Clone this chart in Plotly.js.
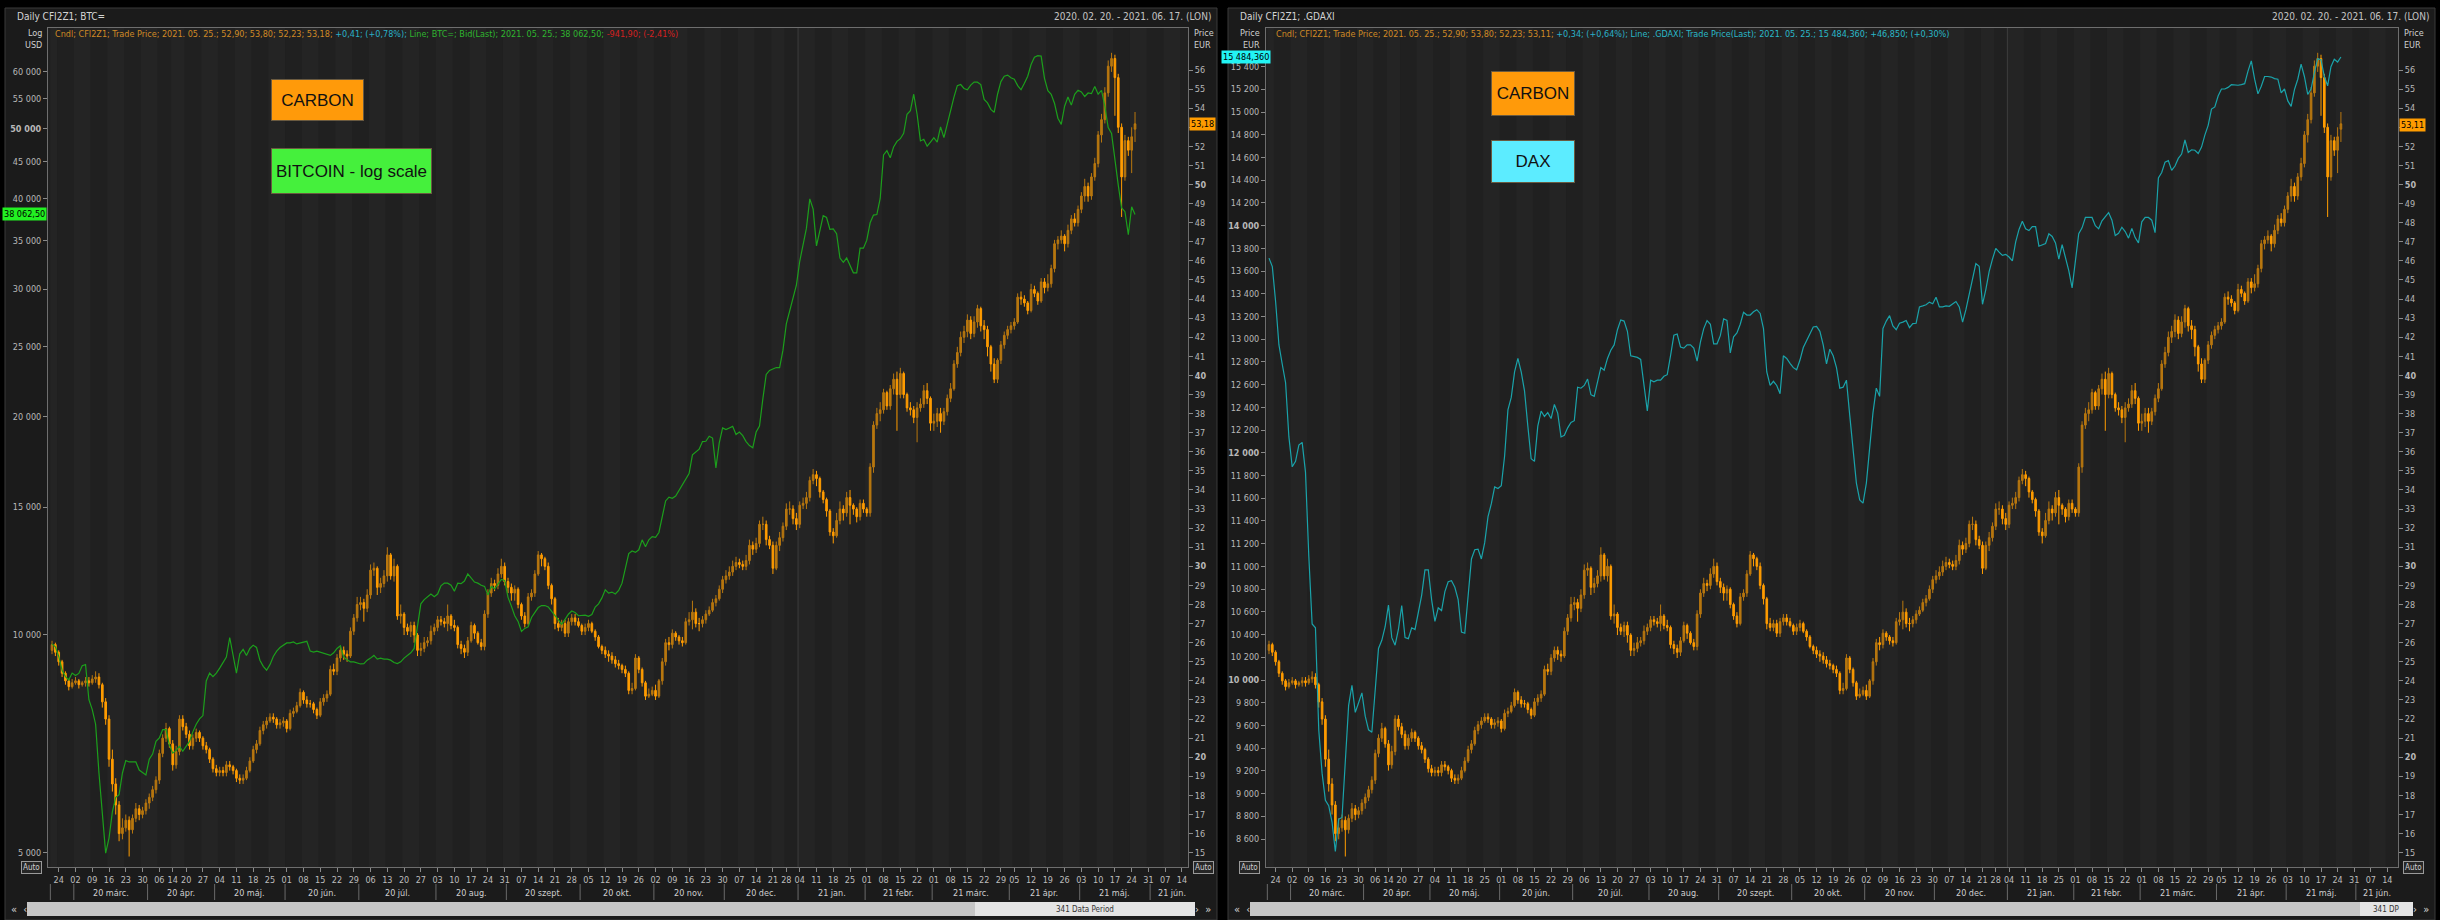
<!DOCTYPE html>
<html><head><meta charset="utf-8">
<script src="https://cdn.plot.ly/plotly-3.0.1.min.js"></script>
<style>html,body{margin:0;padding:0;background:#000;}#chart{width:2440px;height:920px;}</style>
</head><body><div id="chart"></div>
<script>
// ---------------- DATA ----------------
const holidays = ['2020-04-10','2020-04-13','2020-12-25','2021-01-01','2021-04-02'];
const firstDay = '2020-02-20', lastDay = '2021-06-17';

// Carbon CFI2Z1 daily candles (EUR)
const carbonOpen = [
25.6,25.9,25.5,25.0,24.4,24.0,23.7,23.9,24.0,23.8,
23.9,24.0,23.9,24.1,24.2,23.8,22.9,22.0,19.9,18.6,
17.5,16.0,16.3,16.7,16.2,16.8,17.3,17.0,17.2,17.6,
17.9,18.3,18.8,20.2,21.0,21.5,20.7,19.6,20.3,22.0,
21.6,21.2,20.6,21.0,21.3,21.0,20.6,20.4,19.9,19.4,
19.2,19.3,19.2,19.6,19.5,19.3,18.9,18.8,18.9,19.3,
19.8,20.4,20.7,21.4,21.7,21.9,22.1,22.0,21.7,21.8,
21.9,21.5,22.3,22.4,22.7,23.4,23.0,22.8,22.8,22.5,
22.2,22.9,23.1,23.3,24.6,24.5,25.2,25.6,25.4,25.3,
26.6,27.3,28.0,28.1,27.8,28.5,29.8,29.9,28.9,29.1,
29.5,30.6,29.5,30.0,27.4,27.5,26.8,26.6,26.9,26.4,
25.6,25.7,26.0,26.1,26.6,26.8,27.2,27.1,27.0,27.4,
26.9,26.8,25.9,25.7,25.5,26.1,26.9,26.5,26.0,25.8,
27.5,28.6,29.1,29.0,29.6,30.0,29.2,28.9,28.6,28.8,
28.0,27.4,27.0,28.4,28.6,29.6,30.6,30.4,30.0,29.0,
28.3,27.0,26.8,27.0,26.5,27.1,27.3,27.1,26.9,26.6,
26.8,27.0,26.6,26.3,25.8,25.6,25.4,25.3,25.1,24.9,
24.8,24.6,24.4,23.5,23.6,25.2,24.6,23.9,23.2,23.3,
23.5,23.2,24.0,25.0,26.0,25.9,26.5,26.3,26.1,26.0,
27.1,27.2,27.6,27.0,27.0,27.2,27.5,27.7,28.1,28.3,
28.8,29.3,29.5,29.7,30.0,30.2,30.1,30.0,30.3,31.1,
30.9,31.2,32.2,32.2,31.4,31.1,29.9,31.1,31.5,32.1,
33.0,33.0,32.5,32.2,33.2,33.3,33.6,34.5,34.8,34.6,
33.9,33.5,32.9,31.8,31.6,32.4,33.0,32.8,33.6,33.2,
33.0,32.6,33.3,33.0,32.8,35.2,37.4,38.0,38.2,39.1,
38.4,39.3,39.8,39.0,40.1,39.0,38.3,38.2,37.8,38.3,
38.5,39.2,38.8,37.5,37.6,38.0,37.6,38.1,38.8,39.3,
40.6,41.2,42.0,42.3,42.9,42.2,42.8,43.5,42.6,42.4,
41.5,40.6,39.8,40.8,41.6,42.1,42.4,42.6,42.8,44.1,
44.0,43.8,43.4,44.5,44.3,43.9,44.9,44.6,44.8,45.6,
46.9,47.1,47.3,46.9,47.6,48.2,48.0,48.7,49.4,49.9,
49.4,50.4,51.1,52.6,53.4,54.8,56.2,56.6,55.6,53.0,
50.4,52.3,51.8,52.90];
const carbonHigh = [
26.1,26.0,25.6,25.1,24.5,24.1,24.1,24.2,24.1,24.0,
24.2,24.2,24.3,24.5,24.4,23.9,23.1,22.2,20.4,18.9,
17.7,16.8,17.0,16.9,17.0,17.6,17.5,17.4,17.8,18.1,
18.5,19.0,20.4,21.2,21.8,21.6,20.9,20.6,22.2,22.2,
21.8,21.4,21.2,21.5,21.4,21.1,20.8,20.5,20.0,19.6,
19.5,19.5,19.8,19.8,19.6,19.4,19.1,19.1,19.5,20.0,
20.6,20.9,21.6,21.9,22.1,22.3,22.3,22.1,22.0,22.1,
22.0,22.5,22.6,22.9,23.6,23.5,23.2,23.0,22.9,22.6,
23.1,23.3,23.5,24.8,24.9,25.4,25.8,25.8,25.6,26.8,
27.5,28.4,28.4,28.3,28.8,30.1,30.2,30.0,29.4,29.8,
31.0,30.7,30.4,30.1,28.0,27.6,27.0,27.1,27.1,26.5,
26.0,26.3,26.3,26.9,27.0,27.4,27.4,27.3,28.0,27.5,
27.2,26.9,26.1,25.9,26.3,27.1,27.0,26.6,26.2,27.7,
28.8,29.4,29.3,29.9,30.4,30.2,29.4,29.1,29.0,28.9,
28.1,27.6,28.6,28.8,29.8,30.8,30.7,30.5,30.2,29.1,
28.4,27.3,27.2,27.2,27.3,27.5,27.5,27.3,27.0,27.0,
27.2,27.1,26.7,26.4,25.9,25.8,25.6,25.5,25.3,25.1,
24.9,24.8,24.5,23.9,25.4,25.3,24.7,24.0,23.6,23.7,
23.8,24.1,25.2,26.2,26.3,26.7,26.6,26.4,26.3,27.3,
27.6,28.2,27.8,27.3,27.4,27.7,27.9,28.3,28.5,29.0,
29.5,29.8,30.0,30.3,30.5,30.4,30.3,30.6,31.4,31.3,
31.5,32.4,32.6,32.4,31.6,31.3,31.3,31.8,32.3,33.3,
33.4,33.2,32.8,33.4,33.6,33.9,34.7,35.1,35.0,34.7,
34.0,33.6,33.0,32.0,32.8,33.4,33.2,33.9,34.0,33.3,
33.1,33.5,33.5,33.1,35.4,37.6,38.3,38.6,39.3,39.2,
39.5,40.1,40.2,40.4,40.2,39.1,38.6,38.4,38.6,38.8,
39.5,39.6,38.9,38.0,38.3,38.3,38.3,39.0,39.6,40.8,
41.5,42.3,42.6,43.2,43.1,43.1,43.7,43.6,42.9,42.6,
41.6,40.9,40.9,41.8,42.3,42.6,42.8,43.0,44.3,44.4,
44.2,43.9,44.8,44.7,44.4,45.1,45.1,45.3,45.8,47.1,
47.3,47.6,47.4,47.9,48.4,48.5,48.9,49.6,50.3,50.1,
50.6,51.4,52.8,53.7,55.1,56.5,56.9,56.8,55.8,53.2,
52.6,52.5,53.0,53.80];
const carbonLow = [
25.4,25.3,24.8,24.2,23.8,23.5,23.6,23.8,23.6,23.7,
23.7,23.7,23.8,23.9,23.6,22.6,21.7,19.5,18.2,17.0,
15.6,15.7,16.1,14.8,16.0,16.6,16.7,16.8,17.0,17.3,
17.7,18.1,18.6,20.0,20.8,20.5,19.3,19.4,20.1,21.4,
21.0,20.4,20.4,20.8,20.8,20.4,20.2,19.7,19.2,19.0,
19.0,19.0,19.0,19.3,19.1,18.7,18.6,18.6,18.8,19.2,
19.7,20.2,20.6,21.2,21.5,21.8,21.8,21.5,21.5,21.6,
21.3,21.4,22.1,22.3,22.6,22.8,22.6,22.6,22.3,22.0,
22.1,22.7,22.9,23.2,24.3,24.3,25.0,25.1,25.0,25.2,
26.4,27.1,27.7,27.1,27.6,28.3,29.5,28.5,28.6,28.9,
29.2,29.3,29.2,27.2,27.0,26.4,26.4,26.3,26.0,25.3,
25.3,25.5,25.8,25.9,26.4,26.6,26.9,26.8,26.6,26.7,
26.6,25.7,25.4,25.2,25.3,26.0,26.2,25.9,25.6,25.6,
27.3,28.4,28.7,28.8,29.4,29.0,28.6,28.2,28.2,27.8,
27.2,26.8,26.9,28.2,28.4,29.5,30.0,29.8,28.8,28.0,
26.7,26.6,26.6,26.3,26.3,26.9,26.9,26.8,26.4,26.4,
26.6,26.5,26.1,25.7,25.4,25.2,25.0,24.9,24.7,24.6,
24.4,24.2,23.3,23.3,23.5,24.4,23.7,23.0,23.1,23.2,
23.0,23.1,23.8,24.8,25.6,25.7,26.1,25.9,25.8,25.9,
26.9,26.7,26.8,26.6,26.8,27.0,27.4,27.6,27.9,28.2,
28.6,29.1,29.3,29.5,29.8,29.9,29.8,29.8,30.1,30.6,
30.7,31.0,31.9,31.1,30.9,29.6,29.8,30.8,31.3,31.9,
32.7,32.2,31.9,32.0,33.0,33.0,33.4,34.3,34.2,33.6,
33.3,32.6,31.6,31.2,31.5,32.2,32.4,32.6,32.2,32.7,
32.3,32.4,32.8,32.6,32.6,34.9,37.2,37.6,38.0,38.2,
38.2,39.0,37.1,38.8,38.8,38.1,37.9,37.5,36.5,38.1,
38.3,38.5,37.1,37.1,37.3,37.0,37.4,37.9,38.6,39.2,
40.4,41.0,41.7,42.0,41.9,42.0,42.5,42.3,41.9,41.0,
40.2,39.6,39.6,40.6,41.4,41.9,42.2,42.4,42.7,43.7,
43.6,43.2,43.3,44.1,43.7,43.8,44.3,44.4,44.6,45.4,
46.6,46.9,46.5,46.7,47.4,47.8,47.8,48.5,49.1,49.1,
49.2,50.2,50.9,52.2,53.2,54.6,55.9,53.6,52.7,48.3,
50.2,51.5,50.6,52.23];
const carbonClose = [
25.9,25.5,25.0,24.4,24.0,23.7,23.9,24.0,23.8,23.9,
24.0,23.9,24.1,24.2,23.8,22.9,22.0,19.9,18.6,17.5,
16.0,16.3,16.7,16.2,16.8,17.3,17.0,17.2,17.6,17.9,
18.3,18.8,20.2,21.0,21.5,20.7,19.6,20.3,22.0,21.6,
21.2,20.6,21.0,21.3,21.0,20.6,20.4,19.9,19.4,19.2,
19.3,19.2,19.6,19.5,19.3,18.9,18.8,18.9,19.3,19.8,
20.4,20.7,21.4,21.7,21.9,22.1,22.0,21.7,21.8,21.9,
21.5,22.3,22.4,22.7,23.4,23.0,22.8,22.8,22.5,22.2,
22.9,23.1,23.3,24.6,24.5,25.2,25.6,25.4,25.3,26.6,
27.3,28.0,28.1,27.8,28.5,29.8,29.9,28.9,29.1,29.5,
30.6,29.5,30.0,27.4,27.5,26.8,26.6,26.9,26.4,25.6,
25.7,26.0,26.1,26.6,26.8,27.2,27.1,27.0,27.4,26.9,
26.8,25.9,25.7,25.5,26.1,26.9,26.5,26.0,25.8,27.5,
28.6,29.1,29.0,29.6,30.0,29.2,28.9,28.6,28.8,28.0,
27.4,27.0,28.4,28.6,29.6,30.6,30.4,30.0,29.0,28.3,
27.0,26.8,27.0,26.5,27.1,27.3,27.1,26.9,26.6,26.8,
27.0,26.6,26.3,25.8,25.6,25.4,25.3,25.1,24.9,24.8,
24.6,24.4,23.5,23.6,25.2,24.6,23.9,23.2,23.3,23.5,
23.2,24.0,25.0,26.0,25.9,26.5,26.3,26.1,26.0,27.1,
27.2,27.6,27.0,27.0,27.2,27.5,27.7,28.1,28.3,28.8,
29.3,29.5,29.7,30.0,30.2,30.1,30.0,30.3,31.1,30.9,
31.2,32.2,32.2,31.4,31.1,29.9,31.1,31.5,32.1,33.0,
33.0,32.5,32.2,33.2,33.3,33.6,34.5,34.8,34.6,33.9,
33.5,32.9,31.8,31.6,32.4,33.0,32.8,33.6,33.2,33.0,
32.6,33.3,33.0,32.8,35.2,37.4,38.0,38.2,39.1,38.4,
39.3,39.8,39.0,40.1,39.0,38.3,38.2,37.8,38.3,38.5,
39.2,38.8,37.5,37.6,38.0,37.6,38.1,38.8,39.3,40.6,
41.2,42.0,42.3,42.9,42.2,42.8,43.5,42.6,42.4,41.5,
40.6,39.8,40.8,41.6,42.1,42.4,42.6,42.8,44.1,44.0,
43.8,43.4,44.5,44.3,43.9,44.9,44.6,44.8,45.6,46.9,
47.1,47.3,46.9,47.6,48.2,48.0,48.7,49.4,49.9,49.4,
50.4,51.1,52.6,53.4,54.8,56.2,56.6,55.6,53.0,50.4,
52.3,51.8,52.5,53.18];

// Bitcoin BTC= bid (USD, log scale)
const btc = [
9710,9620,9330,8930,8750,8660,8850,8780,8840,9060,
9090,8130,7880,7520,6440,5660,4990,5235,5690,5960,
6010,6440,6700,6670,6670,6670,6500,6440,6400,6730,
6840,7120,7200,7390,7390,7040,6860,6920,7010,6900,
7020,7120,7340,7520,7650,7730,8630,8850,8750,8850,
8990,9170,9310,9910,9410,8850,9410,9540,9360,9570,
9670,9600,9220,9040,8930,9090,9330,9490,9600,9670,
9740,9740,9770,9710,9740,9770,9790,9490,9460,9490,
9460,9430,9400,9360,9440,9570,9650,9310,9230,9170,
9170,9140,9110,9120,9220,9280,9360,9250,9280,9250,
9250,9220,9150,9120,9170,9280,9360,9440,9570,10250,
11030,11180,11280,11380,11280,11380,11680,11780,11780,11700,
11480,11780,11760,11860,12130,11980,11820,11780,11700,11660,
11340,11660,11570,11740,11920,11880,11260,10950,10620,10430,
10100,10200,10250,10560,10750,10900,10970,10970,10920,10770,
10620,10450,10340,10500,10670,10780,10730,10620,10640,10640,
10600,10660,10920,11030,11240,11530,11410,11450,11380,11510,
11780,12290,12940,13050,12990,13100,13520,13230,13520,13660,
13630,13840,14620,15300,15490,15430,15540,15820,16090,16370,
16690,17720,17880,18040,18480,18500,18800,18690,17000,18400,
19300,19200,19300,19400,18900,19050,18830,18480,18250,18120,
19050,19420,21170,22880,23180,23270,23390,23390,24720,26880,
28000,28970,30390,32800,34600,36440,40000,38720,34450,36000,
37920,37700,36300,36370,35800,33140,32690,33140,32300,31620,
31620,34200,34200,35080,37070,37990,38050,40050,46000,46630,
45600,47190,48030,48440,49270,52360,52960,55800,52360,48100,
48350,47300,47900,48600,47900,50300,48600,50810,53050,55290,
57350,57550,56830,56600,57450,57990,57990,57550,54890,54290,
53180,52680,55800,58090,59100,59300,58800,58540,57350,56600,
57800,59100,61330,62770,63100,63000,58700,56430,55800,54180,
51700,50700,53720,55300,53900,55800,56500,56200,55400,56020,
55900,57200,55800,56500,53720,50200,49270,45210,41800,38860,
38400,35700,39000,38062.5];

// DAX .GDAXI (EUR)
const dax = [
13714,13640,13330,12950,12780,12617,12140,11877,11925,12068,
12092,11830,11090,10493,10460,9560,9180,8942,8894,8750,
8490,8775,8790,9276,9777,9954,9715,9800,9887,9682,
9562,9540,9920,10278,10350,10469,10660,10373,10307,10445,
10655,10373,10364,10460,10445,10612,10746,10970,10970,10708,
10517,10636,10612,10779,10865,10875,10817,10708,10422,10412,
10708,11066,11147,11152,11066,11209,11438,11552,11700,11686,
11710,11972,12378,12488,12712,12831,12712,12545,12235,11948,
11925,12235,12368,12320,12354,12302,12426,12350,12140,12154,
12220,12268,12283,12578,12569,12593,12650,12512,12497,12626,
12750,12727,12831,12903,12950,13084,13170,13160,13070,12855,
12845,12840,12822,12593,12368,12640,12626,12640,12640,12674,
12688,12855,13036,13046,12932,12922,12950,12950,12922,12807,
12974,13094,13165,13132,12960,12960,13032,13180,13165,12879,
13022,13055,13132,13237,13213,13213,13242,13260,13227,13094,
12712,12593,12630,12593,12521,12855,12831,12788,12750,12731,
12817,12927,12989,13060,13108,13113,13070,12950,12784,12912,
12855,12750,12569,12578,12640,12330,12044,11734,11586,11557,
11734,12068,12354,12569,12497,13094,13160,13208,13118,13084,
13141,13151,13165,13103,13137,13141,13285,13294,13304,13327,
13313,13370,13285,13285,13294,13290,13313,13332,13285,13151,
13260,13390,13547,13666,13642,13308,13437,13595,13705,13800,
13767,13738,13747,13724,13690,13857,13967,14039,13972,13957,
13991,13991,13819,13833,13843,13929,13905,13848,13705,13833,
13724,13604,13452,13690,13929,13981,14072,14072,14072,14000,
13972,14043,14081,14115,14048,13914,13933,13986,13948,13890,
13976,13895,13848,14034,14072,14072,14048,13938,14420,14468,
14559,14573,14487,14525,14592,14630,14754,14645,14668,14664,
14635,14692,14797,14883,15026,15045,15141,15203,15203,15217,
15241,15236,15236,15241,15250,15360,15451,15289,15160,15227,
15313,15313,15308,15294,15289,15169,15203,15098,15050,15198,
15289,15422,15313,15155,15203,15346,15470,15460,15313,15231,
15399,15465,15440,15484.36];

// Axis tick values
const btcTicks = [5000,10000,15000,20000,25000,30000,35000,40000,45000,50000,55000,60000];
const daxTicks = [8600,8800,9000,9200,9400,9600,9800,10000,10200,10400,10600,10800,11000,11200,11400,11600,11800,12000,12200,12400,12600,12800,13000,13200,13400,13600,13800,14000,14200,14400,14600,14800,15000,15200,15400];
const carbonTicks = [15,16,17,18,19,20,21,22,23,24,25,26,27,28,29,30,31,32,33,34,35,36,37,38,39,40,41,42,43,44,45,46,47,48,49,50,51,52,53,54,55,56];
const monthNames = ['jan.','febr.','márc.','ápr.','máj.','jún.','júl.','aug.','szept.','okt.','nov.','dec.'];

// ---------------- BUILD ----------------
const W = 2440, H = 920;
const px = x => x / W, py = y => 1 - y / H;
const NARROW = 'Liberation Sans Narrow, DejaVu Sans Condensed, Arial Narrow, sans-serif';
const AXF = 'DejaVu Sans Condensed, DejaVu Sans, sans-serif';

function buildDates(start, end) {
  const out = []; let d = new Date(start + 'T00:00:00Z'); const e = new Date(end + 'T00:00:00Z');
  while (d <= e) { const wd = d.getUTCDay(); const s = d.toISOString().slice(0, 10);
    if (wd !== 0 && wd !== 6 && !holidays.includes(s)) out.push(s);
    d = new Date(d.getTime() + 86400000); }
  return out;
}
const allDates = buildDates(firstDay, lastDay);
const dates = allDates.slice(0, carbonClose.length);
const wday = s => new Date(s + 'T00:00:00Z').getUTCDay();

const tickVals = [], tickText = [], weekStart = [0];
for (let i = 1; i < allDates.length; i++) {
  if (wday(allDates[i]) < wday(allDates[i - 1])) { tickVals.push(allDates[i]); tickText.push(allDates[i].slice(8, 10)); weekStart.push(i); }
}
const months = [];
allDates.forEach((d, i) => { const k = d.slice(0, 7); if (!months.length || months[months.length - 1].k !== k) months.push({ k, s: i, e: i }); else months[months.length - 1].e = i; });
const yearBreak = allDates.findIndex(d => d.startsWith('2021')) - 0.5;

const fmtSp = v => String(v).replace(/\B(?=(\d{3})+(?!\d))/g, ' ');
const boldIf = (v, s, set) => set.includes(v) ? '<b>' + s + '</b>' : s;

const panels = [
  { x0: 48, x1: 1188, range: [-1.2, 338.8], xa: 'x', xk: 'xaxis', ya: 'y', yk: 'yaxis', la: 'y2', lk: 'yaxis2', pL: 5, pR: 1217 },
  { x0: 1266, x1: 2398, range: [-0.9, 340.2], xa: 'x2', xk: 'xaxis2', ya: 'y3', yk: 'yaxis3', la: 'y4', lk: 'yaxis4', pL: 1228, pR: 2435 }
];
const PT = 28, PB = 867;

const candleStyle = {
  increasing: { line: { color: '#b8770f', width: 1 }, fillcolor: '#b8770f' },
  decreasing: { line: { color: '#ff9c00', width: 1 }, fillcolor: '#ff9c00' },
  whiskerwidth: 0, hoverinfo: 'skip', showlegend: false
};
const traces = [];
panels.forEach((p, k) => {
  traces.push(Object.assign({ type: 'candlestick', x: dates, open: carbonOpen, high: carbonHigh, low: carbonLow, close: carbonClose, xaxis: p.xa, yaxis: p.ya }, candleStyle));
  traces.push({ type: 'scatter', mode: 'lines', x: dates, y: k === 0 ? btc : dax, xaxis: p.xa, yaxis: p.la,
    line: { color: k === 0 ? '#1c9f1c' : '#1aa3aa', width: 1.2 }, hoverinfo: 'skip', showlegend: false });
});

const shapes = [], annotations = [];
const rect = (x0, y0, x1, y1, fill, line) => shapes.push({ type: 'rect', xref: 'paper', yref: 'paper', x0: px(x0), x1: px(x1), y0: py(y1), y1: py(y0), fillcolor: fill, line: line ? { color: line, width: 1 } : { width: 0 }, layer: 'below' });
const txt = (x, y, text, o) => annotations.push(Object.assign({ xref: 'paper', yref: 'paper', x: px(x), y: py(y), text, showarrow: false, xanchor: 'left', yanchor: 'middle', font: { family: NARROW, size: 9, color: '#c8c8c8' } }, o || {}));

const layout = { width: W, height: H, margin: { l: 0, r: 0, t: 0, b: 0 }, paper_bgcolor: '#000000', plot_bgcolor: 'rgba(0,0,0,0)', showlegend: false, hovermode: false, dragmode: false, shapes, annotations };

panels.forEach((p, k) => {
  // panel chrome
  rect(p.pL, 8, p.pR, 920, '#1b1b1b', '#3a3a3a');
  rect(p.x0, PT, p.x1, PB, '#202020');
  // weekly stripes
  for (let w = 0; w < weekStart.length; w += 2) {
    const s = weekStart[w], e = (w + 1 < weekStart.length ? weekStart[w + 1] : allDates.length) - 1;
    shapes.push({ type: 'rect', xref: p.xa, yref: 'paper', x0: s - 0.5, x1: e + 0.5, y0: py(PB), y1: py(PT), fillcolor: '#242424', line: { width: 0 }, layer: 'below' });
  }
  shapes.push({ type: 'line', xref: p.xa, yref: 'paper', x0: yearBreak, x1: yearBreak, y0: py(PB), y1: py(PT), line: { color: '#3d3d3d', width: 1 }, layer: 'below' });
  // month separators and labels
  months.forEach(m => {
    shapes.push({ type: 'line', xref: p.xa, yref: 'paper', x0: m.s - 0.5, x1: m.s - 0.5, y0: py(900), y1: py(884), line: { color: '#6a6a6a', width: 1 } });
    if (m.e - m.s > 8) {
      const mm = +m.k.slice(5, 7);
      annotations.push({ xref: p.xa, yref: 'paper', x: (m.s + m.e) / 2, y: py(893), text: m.k.slice(2, 4) + ' ' + monthNames[mm - 1], showarrow: false, xanchor: 'center', yanchor: 'middle', font: { family: NARROW, size: 9, color: '#d0d0d0' } });
    }
  });
  // scroll bar
  rect(p.pL + 22, 902, p.pR - 22, 916, '#c6c6c6');
  if (k === 0) { rect(975, 902, 1195, 916, '#e4e4e4'); txt(1085, 909, '341 Data Period', { xanchor: 'center', font: { family: NARROW, size: 8, color: '#333' } }); }
  else { rect(2360, 902, 2413, 916, '#e4e4e4'); txt(2386, 909, '341 DP', { xanchor: 'center', font: { family: NARROW, size: 8, color: '#333' } }); }
  txt(p.pL + 4, 909, '«  ‹', { font: { family: AXF, size: 11, color: '#d8d8d8' } });
  txt(p.pR - 4, 909, '›  »', { xanchor: 'right', font: { family: AXF, size: 11, color: '#d8d8d8' } });
  // Auto boxes
  const ab = { font: { family: AXF, size: 8, color: '#cfcfcf' }, bordercolor: '#9a9a9a', borderwidth: 1, borderpad: 1, bgcolor: '#262626', xanchor: 'center' };
  txt(p.x0 - 17, 867, 'Auto', ab);
  txt(p.x1 + 15, 867, 'Auto', ab);
  // headers
  txt(p.pL + 10, 17, k === 0 ? 'Daily CFI2Z1; BTC=' : 'Daily CFI2Z1; .GDAXI', { font: { family: NARROW, size: 10, color: '#d4d4d4' } });
  txt(p.pR - 4, 17, '2020. 02. 20. - 2021. 06. 17. (LON)', { xanchor: 'right', font: { family: NARROW, size: 10, color: '#c4c4c4' } });
  txt(p.x0 - 4, 33, k === 0 ? 'Log' : 'Price', { xanchor: 'right', font: { family: AXF, size: 9, color: '#d0d0d0' } });
  txt(p.x0 - 4, 45, k === 0 ? 'USD' : 'EUR', { xanchor: 'right', font: { family: AXF, size: 9, color: '#d0d0d0' } });
  txt(p.x1 + 4, 33, 'Price', { font: { family: AXF, size: 9, color: '#d0d0d0' } });
  txt(p.x1 + 4, 45, 'EUR', { font: { family: AXF, size: 9, color: '#d0d0d0' } });

  // axes (tick 53 sits under the last-price tag, so its label is left blank)
  layout[p.xk] = { domain: [px(p.x0), px(p.x1)], anchor: p.ya, type: 'category', categoryorder: 'array', categoryarray: allDates, range: p.range,
    tickmode: 'array', tickvals: tickVals, ticktext: tickText, tickangle: 0, ticks: 'outside', ticklen: 4, tickcolor: '#8a8a8a',
    tickfont: { family: NARROW, size: 9, color: '#bdbdbd' }, showgrid: false, zeroline: false, showline: true, linecolor: '#6e6e6e', mirror: true,
    rangeslider: { visible: false }, fixedrange: true };
  layout[p.yk] = { domain: [py(PB), py(PT)], anchor: p.xa, side: 'right', range: [14.25, 58.2], tickmode: 'array', tickvals: carbonTicks,
    ticktext: carbonTicks.map(v => v === 53 ? '' : boldIf(v, String(v), [20, 30, 40, 50])), ticks: 'outside', ticklen: 4, tickcolor: '#8a8a8a',
    tickfont: { family: AXF, size: 9, color: '#b8b8b8' }, showgrid: false, zeroline: false, showline: true, linecolor: '#6e6e6e', mirror: true, fixedrange: true };
  if (k === 0) {
    layout[p.lk] = { overlaying: p.ya, anchor: p.xa, side: 'left', type: 'log', range: [Math.log10(4775), Math.log10(68890)], tickmode: 'array', tickvals: btcTicks,
      ticktext: btcTicks.map(v => boldIf(v, fmtSp(v), [50000])), ticks: 'outside', ticklen: 4, tickcolor: '#8a8a8a',
      tickfont: { family: AXF, size: 9, color: '#b8b8b8' }, showgrid: false, zeroline: false, showline: false, fixedrange: true };
  } else {
    layout[p.lk] = { overlaying: p.ya, anchor: p.xa, side: 'left', range: [8354, 15740], tickmode: 'array', tickvals: daxTicks,
      ticktext: daxTicks.map(v => boldIf(v, fmtSp(v), [10000, 12000, 14000])), ticks: 'outside', ticklen: 4, tickcolor: '#8a8a8a',
      tickfont: { family: AXF, size: 9, color: '#b8b8b8' }, showgrid: false, zeroline: false, showline: false, fixedrange: true };
  }
});

// in-plot info lines
txt(53, 34, '<span style="color:#d08a25">Cndl; CFI2Z1; Trade Price; 2021. 05. 25.; 52,90; 53,80; 52,23; 53,18;</span> <span style="color:#2ab0c8">+0,41; (+0,78%);</span> <span style="color:#2fb52f">Line; BTC=; Bid(Last); 2021. 05. 25.; 38 062,50;</span> <span style="color:#d42020">-941,90; (-2,41%)</span>', { font: { family: NARROW, size: 9 } });
txt(1274, 34, '<span style="color:#d08a25">Cndl; CFI2Z1; Trade Price; 2021. 05. 25.; 52,90; 53,80; 52,23; 53,11;</span> <span style="color:#2ab0c8">+0,34; (+0,64%);</span> <span style="color:#2ab8c8">Line; .GDAXI; Trade Price(Last); 2021. 05. 25.; 15 484,360; +46,850; (+0,30%)</span>', { font: { family: NARROW, size: 9 } });

// legend boxes
const box = (x0, y0, x1, y1, text, bg) => annotations.push({ xref: 'paper', yref: 'paper', x: px((x0 + x1) / 2), y: py((y0 + y1) / 2), xanchor: 'center', yanchor: 'middle', text, showarrow: false, bgcolor: bg, bordercolor: '#6a5a40', borderwidth: 1, borderpad: 0, width: x1 - x0 - 2, height: y1 - y0 - 2, font: { family: 'Liberation Sans, Arial, sans-serif', size: 17, color: '#111' } });
box(271, 79, 364, 121, 'CARBON', '#ff9a0a');
box(271, 148, 432, 194, 'BITCOIN - log scale', '#45f03c');
box(1491, 71, 1575, 116, 'CARBON', '#ff9a0a');
box(1491, 140, 1575, 183, 'DAX', '#5cecff');

// last value tags
const tag = (xref, x, xa, yref, y, text, bg) => annotations.push({ xref: 'paper', x: px(x), xanchor: xa, yref, y, yanchor: 'middle', text, showarrow: false, bgcolor: bg, borderpad: 1, font: { family: AXF, size: 9, color: '#000' } });
tag('paper', 47, 'right', 'y2', Math.log10(38062.5), '38 062,50', '#22f022');
tag('paper', 1189, 'left', 'y', 53.18, '53,18', '#ff9c00');
tag('paper', 1271, 'right', 'y4', 15484.36, '15 484,360', '#22f4f4');
tag('paper', 2399, 'left', 'y3', 53.11, '53,11', '#ff9c00');

Plotly.newPlot('chart', traces, layout, { displayModeBar: false, staticPlot: true });
</script></body></html>
